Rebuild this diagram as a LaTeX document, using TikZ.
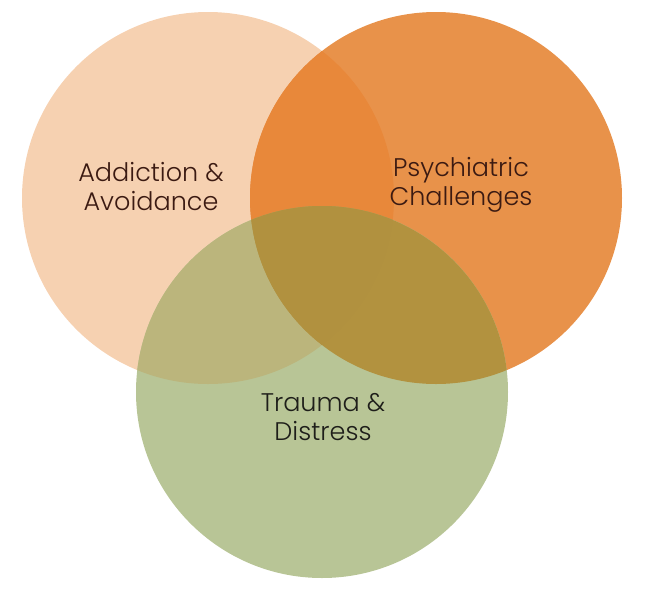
\documentclass[tikz,border=0pt]{standalone}
\usepackage{fontspec}
\setmainfont{Poppins}[UprightFont=*-Light]
\definecolor{peach}{HTML}{F6D1B1}
\definecolor{orng}{HTML}{E8924A}
\definecolor{sage}{HTML}{B8C596}
\definecolor{lrmix}{HTML}{E8883A}
\definecolor{lgmix}{HTML}{BBB57C}
\definecolor{rgmix}{HTML}{B2923F}
\definecolor{allmix}{HTML}{B1913F}
\definecolor{brn}{HTML}{3B1A12}
\definecolor{drk}{HTML}{1E1E1A}
\tikzset{lbl/.style={align=center, font=\fontsize{25.5}{29}\selectfont, inner sep=0pt}}
\begin{document}
\begin{tikzpicture}[x=1pt,y=-1pt]
\useasboundingbox (0,0) rectangle (646,598);
\def\R{186}
\coordinate (cl) at (208,198);
\coordinate (cr) at (436,198);
\coordinate (cg) at (322,392);
\fill[peach] (cl) circle (\R);
\fill[orng] (cr) circle (\R);
\fill[sage] (cg) circle (\R);
\begin{scope}
\clip (cl) circle (\R);
\fill[lrmix] (cr) circle (\R);
\fill[lgmix] (cg) circle (\R);
\end{scope}
\begin{scope}
\clip (cr) circle (\R);
\fill[rgmix] (cg) circle (\R);
\clip (cl) circle (\R);
\fill[allmix] (cg) circle (\R);
\end{scope}
\node[lbl, text=brn] (addict) at (151,187) {Addiction \&\\Avoidance};
\node[lbl, text=brn] (psych) at (461,185) {Psychiatric\\Challenges};
\node[lbl, text=drk] (trauma) at (323,417) {Trauma \&\\Distress};
\end{tikzpicture}
\end{document}
